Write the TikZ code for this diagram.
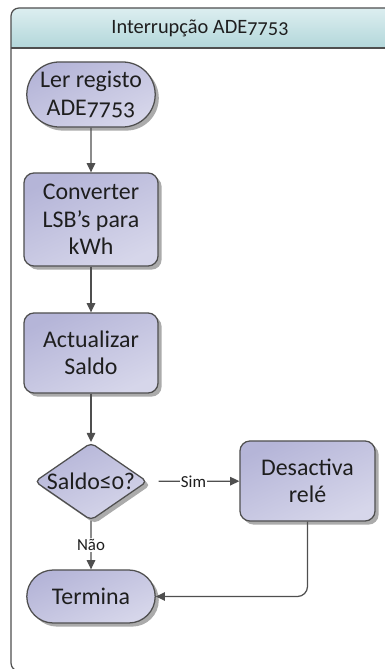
\documentclass[tikz,border=0pt]{standalone}
\usepackage{fontspec}
\setmainfont{Carlito}[Numbers=OldStyle]
\usepackage{tikz}
\usetikzlibrary{arrows.meta,positioning,shapes.geometric,shapes.misc,shadows}
\definecolor{Ink}{HTML}{1E1E1E}
\definecolor{LineDark}{HTML}{4F4F4F}
\definecolor{NodeTop}{HTML}{B5B5D8}
\definecolor{NodeBottom}{HTML}{D6D6EA}
\definecolor{HeadTop}{HTML}{DCEEF0}
\definecolor{HeadBottom}{HTML}{B3D7DA}
\tikzset{
  stepshade/.style={
    draw=LineDark, line width=0.9pt, text=Ink,
    top color=NodeTop, bottom color=NodeBottom, shading angle=25,
    drop shadow={shadow xshift=0.09cm, shadow yshift=-0.09cm, fill=black!55, opacity=0.6},
    font=\fontsize{17}{19.5}\selectfont, align=center, inner sep=2pt
  },
  terminal/.style={stepshade, rounded rectangle, minimum width=3.35cm},
  process/.style={stepshade, rectangle, rounded corners=0.25cm, minimum width=3.35cm},
  decision/.style={stepshade, diamond, aspect=1.45, inner sep=0pt, rounded corners=0.12cm, minimum width=2.8cm},
  flow/.style={draw=LineDark, line width=0.9pt, -{Triangle[length=6.5pt,width=6pt]}},
  flowtag/.style={fill=white, text=Ink, inner sep=1pt, font=\fontsize{12}{14}\selectfont}
}

\begin{document}
\begin{tikzpicture}[x=0.025cm, y=-0.025cm]
  \useasboundingbox (0,0) rectangle (385,669);
  \clip (0,0) rectangle (385,669);
  \shade[top color=HeadTop, bottom color=HeadBottom, rounded corners=0.2cm]
    (11,48) |- (394,8) [sharp corners] -- (394,48) -- cycle;
  \draw[LineDark, line width=0.9pt, rounded corners=0.2cm] (11,8) rectangle (394,671);
  \draw[LineDark, line width=0.9pt] (11,48) -- (394,48);
  \node[text=Ink, font=\fontsize{14.5}{16}\selectfont] (title) at (200,28) {Interrupção ADE7753};

  \node[terminal, minimum height=1.625cm] (ler) at (91,94.5) {Ler registo\\ADE7753};
  \node[process, minimum height=2.325cm] (conv) at (91,219.5) {Converter\\LSB’s para\\kWh};
  \node[process, minimum height=2.0cm] (saldo) at (91,353) {Actualizar\\Saldo};
  \node[decision] (teste) at (91,481.5) {Saldo≤0?};
  \node[process, minimum width=3.375cm, minimum height=2.0cm] (rele) at (307.5,481) {Desactiva\\relé};
  \node[terminal, minimum height=1.325cm] (fim) at (91,596.5) {Termina};

  \draw[flow] (ler) -- (conv);
  \draw[flow] (conv) -- (saldo);
  \draw[flow] (saldo) -- (teste);
  \draw[flow, shorten <=0.27cm] (teste) -- node[flowtag] {Sim} (rele);
  \draw[flow] (teste) -- node[flowtag] {Não} (fim);
  \draw[flow, rounded corners=0.25cm] (rele) |- (fim);
\end{tikzpicture}
\end{document}
